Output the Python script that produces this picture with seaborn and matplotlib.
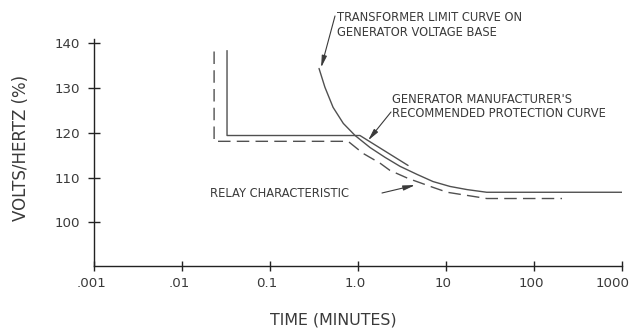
import seaborn as sns
import pandas as pd
import matplotlib.pyplot as plt
import numpy as np
from matplotlib.ticker import NullLocator
from matplotlib.transforms import ScaledTranslation

# Curve data (time in minutes, volts/hertz in %)
gen_time = [0.0324, 0.0324, 1.05, 3.7]
gen_vh = [138.4, 119.4, 119.4, 112.7]

xfmr_time = [0.36, 0.42, 0.52, 0.68, 0.925, 1.37, 2.03, 3.0, 4.68, 7.1, 11.1, 17.3, 29, 1000]
xfmr_vh = [134.4, 130.2, 125.7, 122.1, 119.4, 116.7, 114.5, 112.5, 110.7, 109.1, 108.0, 107.3, 106.7, 106.7]

relay_time = [0.0231, 0.0231, 0.77, 1.14, 1.78, 2.3, 3.7, 7.1, 10.3, 17.3, 29, 208]
relay_vh = [138.2, 118.1, 118.1, 115.4, 113.2, 111.6, 109.8, 107.8, 106.7, 106.0, 105.3, 105.3]

xticks = [0.001, 0.01, 0.1, 1, 10, 100, 1000]
xtick_labels = ['.001', '.01', '0.1', '1.0', '10', '100', '1000']
yticks = [100, 110, 120, 130, 140]

sns.set_style('white')
plt.rcParams['font.family'] = ['DejaVu Sans']

ink = '#3a3a3a'
line_col = '#505050'

fig = plt.figure(figsize=(6.36, 3.29), dpi=100)
ax = fig.add_axes([0.148, 0.1915, 0.830, 0.690])

sns.lineplot(x=gen_time, y=gen_vh, sort=False, estimator=None, color=line_col, lw=1.0, ax=ax)
sns.lineplot(x=xfmr_time, y=xfmr_vh, sort=False, estimator=None, color=line_col, lw=1.0, ax=ax)
sns.lineplot(x=relay_time, y=relay_vh, sort=False, estimator=None, color=line_col, lw=1.0, ax=ax)
ax.lines[-1].set_dashes((9, 4.5))

ax.set_xscale('log')
ax.set_xlim(0.001, 1000)
ax.set_ylim(90.2, 141)
ax.set_xticks(xticks)
ax.set_xticklabels(xtick_labels)
ax.set_yticks(yticks)
ax.xaxis.set_minor_locator(NullLocator())

for side in ['top', 'right']:
    ax.spines[side].set_visible(False)
for side in ['left', 'bottom']:
    ax.spines[side].set_color('#222222')
    ax.spines[side].set_linewidth(1.0)

ax.tick_params(axis='y', left=True, direction='inout', length=8.5, width=1.0,
               color='#222222', labelsize=9.6, labelcolor=ink, pad=6)
ax.tick_params(axis='x', bottom=True, direction='inout', length=6.5, width=1.0,
               color='#222222', labelsize=9.6, labelcolor=ink, pad=5)

# the reference labels sit a little left of their ticks; pull the last one in
for lbl in ax.get_xticklabels():
    lbl.set_transform(lbl.get_transform() + ScaledTranslation(-3 / 100, 0, fig.dpi_scale_trans))
last = ax.get_xticklabels()[-1]
last.set_transform(last.get_transform() + ScaledTranslation(-6 / 100, 0, fig.dpi_scale_trans))

ax.set_ylabel('VOLTS/HERTZ (%)', fontsize=12, color=ink)
ax.set_xlabel('TIME (MINUTES)', fontsize=11.4, color=ink)
ax.yaxis.set_label_coords(-0.122, 0.52)
ax.xaxis.set_label_coords(0.453, -0.205)

# Callout texts
fs = 8.3
fig.text(337 / 636, 1 - 11 / 329, 'TRANSFORMER LIMIT CURVE ON\nGENERATOR VOLTAGE BASE',
         fontsize=fs, color=ink, ha='left', va='top', linespacing=1.2)
fig.text(392 / 636, 1 - 93 / 329, "GENERATOR MANUFACTURER'S\nRECOMMENDED PROTECTION CURVE",
         fontsize=fs, color=ink, ha='left', va='top', linespacing=1.1)
fig.text(210 / 636, 1 - 193.5 / 329, 'RELAY CHARACTERISTIC',
         fontsize=fs, color=ink, ha='left', va='center')

arrow = dict(arrowstyle='-|>,head_length=0.7,head_width=0.15', color=ink, lw=0.8,
             shrinkA=0, shrinkB=0)
ax.annotate('', xy=(0.38, 134.6), xytext=(335 / 636, 1 - 16 / 329),
            textcoords='figure fraction', arrowprops=arrow, annotation_clip=False)
ax.annotate('', xy=(1.30, 118.3), xytext=(391 / 636, 1 - 112 / 329),
            textcoords='figure fraction', arrowprops=arrow, annotation_clip=False)
ax.annotate('', xy=(4.45, 108.3), xytext=(382 / 636, 1 - 193 / 329),
            textcoords='figure fraction', arrowprops=arrow, annotation_clip=False)

fig.savefig('out.png', dpi=100)
